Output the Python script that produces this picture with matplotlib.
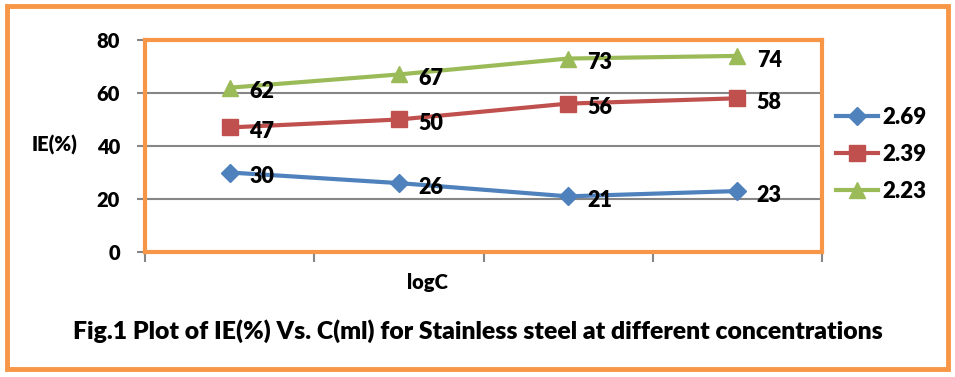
import matplotlib
matplotlib.use("Agg")
import matplotlib.pyplot as plt
from matplotlib.patches import Rectangle
from matplotlib.lines import Line2D

categories = ["", "", "", ""]
series_names = ["2.69", "2.39", "2.23"]
s269 = [30, 26, 21, 23]
s239 = [47, 50, 56, 58]
s223 = [62, 67, 73, 74]
yticks = [0, 20, 40, 60, 80]

plt.rcParams['font.family'] = ['Lato', 'DejaVu Sans']
W = 'heavy'
plt.rcParams['font.weight'] = W

ORANGE = "#F79646"
colors = ["#4F81BD", "#C0504D", "#9BBB59"]
markers = ["D", "s", "^"]
msizes = [9, 11, 11]

fig = plt.figure(figsize=(9.55, 3.77), dpi=100)
fig.patches.append(Rectangle((7/955, 1-369/377), 941/955, 363/377, transform=fig.transFigure,
                             fill=False, edgecolor=ORANGE, linewidth=3.5, zorder=0))

ax = fig.add_axes([145/955, 1-252/377, 677/955, 212/377])
x = list(range(len(categories)))
for vals, name, c, m, ms in zip([s269, s239, s223], series_names, colors, markers, msizes):
    ax.plot(x, vals, color=c, marker=m, markersize=ms, linewidth=3, label=name, zorder=3)
    for xi, v in zip(x, vals):
        ax.annotate(str(v), (xi, v), xytext=(14, -3), textcoords='offset points',
                    ha='left', va='center', fontsize=15.5, fontweight=W, color='black', zorder=4)

ax.set_xlim(-0.5, 3.5)
ax.set_ylim(0, 80)
ax.set_yticks(yticks)
ax.set_yticklabels([str(t) for t in yticks], fontsize=14.5, fontweight=W)
ax.set_xticks([-0.5, 0.5, 1.5, 2.5, 3.5])
ax.set_xticklabels([])
ax.tick_params(axis='both', color='#868686', width=1.5, length=6, direction='out')
ax.tick_params(axis='y', pad=12)
ax.tick_params(axis='x', length=7)
ax.yaxis.grid(True, color='#868686', linewidth=1.5)
ax.set_axisbelow(True)
for side in ['top', 'right', 'left', 'bottom']:
    ax.spines[side].set_color(ORANGE)
    ax.spines[side].set_linewidth(3)

fig.text(55/955, 1-145/377, "IE(%)", fontsize=14.5, fontweight=W, ha='center', va='center')
fig.text(427/955, 1-283/377, "logC", fontsize=14.5, fontweight=W, ha='center', va='center')
fig.text(478/955, 1-331/377, "Fig.1 Plot of IE(%) Vs. C(ml) for Stainless steel at different concentrations",
         fontsize=17.8, fontweight=W, ha='center', va='center')

handles = [Line2D([0], [0], color=c, marker=m, markersize=ms, linewidth=3)
           for c, m, ms in zip(colors, markers, msizes)]
fig.legend(handles, series_names, loc='center left', bbox_to_anchor=(816/955, 1-154/377),
           frameon=False, handlelength=1.9, handletextpad=0.2, labelspacing=0.72,
           prop={'weight': W, 'size': 16})

fig.savefig("out.png", dpi=100)
